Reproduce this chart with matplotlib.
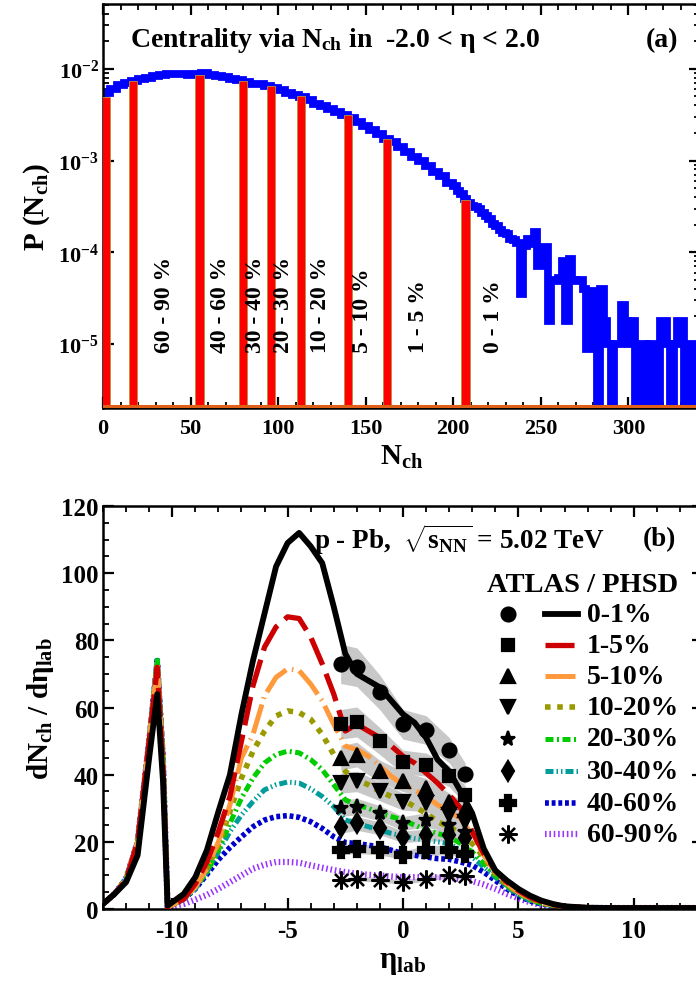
import numpy as np
import matplotlib
matplotlib.use('Agg')
import matplotlib.pyplot as plt
from matplotlib.ticker import MultipleLocator, LogLocator, FuncFormatter, NullFormatter

#################### FONTS (bold Times look) ####################
plt.rcParams['font.family'] = 'serif'
plt.rcParams['font.serif'] = ['Liberation Serif', 'DejaVu Serif']
plt.rcParams['font.weight'] = 'bold'
plt.rcParams['axes.labelweight'] = 'bold'
plt.rcParams['axes.unicode_minus'] = False
plt.rcParams['mathtext.fontset'] = 'custom'
plt.rcParams['mathtext.rm'] = 'Liberation Serif:bold'
plt.rcParams['mathtext.it'] = 'Liberation Serif:bold'
plt.rcParams['mathtext.bf'] = 'Liberation Serif:bold'
plt.rcParams['axes.linewidth'] = 1.8

#################### DATA (a): P(Nch) histogram ####################
# log10 P per bin, 4 wide bins from 0 to 200
nch_width_low = 4
p_log_low = [-2.26, -2.22, -2.18, -2.15, -2.13, -2.11, -2.10, -2.08, -2.07, -2.06,
             -2.055, -2.06, -2.065, -2.06, -2.05, -2.065, -2.08, -2.09, -2.11, -2.12,
             -2.14, -2.16, -2.17, -2.19, -2.21, -2.23, -2.26, -2.28, -2.31, -2.34,
             -2.38, -2.41, -2.44, -2.47, -2.50, -2.54, -2.58, -2.62, -2.67, -2.71,
             -2.76, -2.80, -2.85, -2.91, -2.96, -3.01, -3.06, -3.12, -3.17, -3.24]
# 2 wide bins from 200 to 340, None = empty bin
nch_width_high = 2
p_log_high = [-3.28, -3.33, -3.37, -3.42, -3.46, -3.50, -3.51, -3.53, -3.57, -3.60,
              -3.64, -3.69, -3.71, -3.76, -3.79, -3.80, -3.85, -3.87, -3.90, -4.45,
              -3.93, -3.85, -3.91, -3.78, -4.15, -4.10, -3.94, -4.75, -4.30, -4.31,
              -4.28, -4.10, -4.75, -4.07, -4.30, -4.31, -4.30, -4.40, -5.05, -4.42,
              -5.00, None, -4.40, -4.75, -5.00, None, -5.00, -5.00, -4.58, -4.75,
              -5.00, -4.75, None, -5.00, -5.00, None, -5.00, -5.00, None, -4.75,
              -4.75, -5.00, None, -5.00, -4.75, -4.75, None, -5.00, -5.00, None]

cut_nch = [1.5, 17, 55, 80, 96, 113, 140, 162, 207]
cut_p = [4.9e-3, 7.4e-3, 8.6e-3, 7.4e-3, 6.5e-3, 5.0e-3, 3.15e-3, 1.74e-3, 3.7e-4]
class_labels = ['60 - 90 %', '40 - 60 %', '30 - 40 %', '20 - 30 %',
                '10 - 20 %', '5 - 10 %', '1 - 5 %', '0 - 1 %']
class_nch = [35, 67, 87, 103, 124, 148, 180, 223]

#################### DATA (b): dNch/deta ####################
eta_phsd = [-13, -12.5, -12, -11.5, -11, -10.65, -10.4, -10.2, -9.5, -9, -8.5, -8,
            -7.5, -7, -6.5, -6, -5.5, -5, -4.5, -4, -3.5, -3, -2.5, -2, -1.5, -1,
            -0.5, 0, 0.5, 1, 1.5, 2, 2.5, 3, 3.5, 4, 4.5, 5, 5.5, 6, 6.5, 7, 8, 9,
            10, 11, 12, 13]
phsd_00_01 = [1.5, 4.5, 8, 16, 45, 64, 38, 1, 4.5, 9.5, 17.5, 29,
              40, 58, 74, 88, 102, 109, 112, 108, 103, 90, 76, 70, 68, 66,
              62, 58, 55.5, 51, 44.5, 41, 35, 28.5, 18, 11.5, 8.5, 6, 4, 2.5, 1.5, 0.8, 0.4, 0.3,
              0.3, 0.3, 0.3, 0.3]
phsd_01_05 = [1.5, 4.5, 8.5, 20, 50, 72, 42, 0.5, 3, 7.5, 14, 23,
              33.5, 50, 66.5, 78, 84, 87, 86.5, 81, 73, 64, 53, 55, 53, 51,
              48.5, 45.5, 43.5, 40.5, 37.5, 34, 30, 23, 16.5, 11.5, 8, 5.5, 3.5, 2.2, 1.3, 0.8, 0.4, 0.3,
              0.3, 0.3, 0.3, 0.3]
phsd_05_10 = [1.5, 4.5, 9, 20, 50, 73, 44, 0.5, 3, 6.5, 12, 20,
              31, 45, 52, 63.5, 69, 71.5, 71, 67, 62, 55, 48.5, 47.5, 45.5, 42.5,
              39.5, 37, 35.5, 33.5, 31, 29, 27, 22, 16, 11, 7.5, 5, 3.2, 2, 1.2, 0.7, 0.4, 0.3,
              0.3, 0.3, 0.3, 0.3]
phsd_10_20 = [1.5, 4.5, 9, 20, 50, 73, 44, 0.5, 3, 7, 12, 19,
              29, 39, 47, 53, 57.5, 59, 58.5, 56.5, 52, 46, 41, 38.5, 37, 35,
              33.5, 32.5, 30.5, 28.5, 26, 24.5, 22.5, 19.5, 15.5, 10.5, 7, 5, 3, 1.8, 1.1, 0.7, 0.4, 0.3,
              0.3, 0.3, 0.3, 0.3]
phsd_20_30 = [1.5, 4.5, 9, 20, 50, 74, 45, 0.5, 3, 6.5, 11, 17.5,
              25.5, 33, 39, 43.5, 46, 47, 46.5, 44.5, 41.5, 37, 32.5, 31, 30, 28.5,
              27.5, 26.5, 25, 23.5, 22.5, 21.5, 19.5, 17, 13.5, 10, 7, 4.5, 2.8, 1.7, 1, 0.6, 0.4, 0.3,
              0.3, 0.3, 0.3, 0.3]
phsd_30_40 = [1.5, 4.5, 9, 20, 50, 75, 45, 0.5, 3, 6, 11, 17,
              23, 28, 32, 35.5, 37, 37.8, 37.5, 35.8, 33.5, 30.5, 26.5, 25.5, 24.5, 23.5,
              22.5, 21.8, 21, 20.5, 20, 19.5, 17.5, 15.5, 12.5, 9.5, 6.5, 4.3, 2.6, 1.6, 1, 0.6, 0.4, 0.3,
              0.3, 0.3, 0.3, 0.3]
phsd_40_60 = [1.5, 4.5, 9, 20, 50, 74, 45, 0.5, 3, 6, 10.3, 14.7,
              18.3, 21.5, 24.5, 26.5, 27.5, 27.8, 27.3, 26, 24, 21.5, 19.8, 19.5, 19, 18.5,
              17.5, 16.5, 16, 15.5, 15, 14.8, 14, 13, 11, 8.5, 6, 4, 2.4, 1.5, 0.9, 0.5, 0.3, 0.3,
              0.3, 0.3, 0.3, 0.3]
phsd_60_90 = [1.5, 4.5, 9, 20, 50, 73, 44, 0.5, 1.5, 2.8, 4.2, 6,
              8, 10, 12, 13.2, 14, 14, 13.8, 13, 12.3, 11.6, 11, 10.5, 10.2, 10,
              9.7, 9.5, 9.5, 9.5, 9.5, 9.3, 9, 8.3, 7.3, 6, 4.5, 3.2, 2, 1.2, 0.8, 0.5, 0.3, 0.3,
              0.3, 0.3, 0.3, 0.3]

atlas_eta = [-2.7, -2.0, -1.0, 0.0, 1.0, 2.0, 2.7]
atlas_00_01 = [73, 72, 64.5, 55, 53.3, 47.3, 40.2]
atlas_01_05 = [55, 55.7, 50, 43.8, 43, 39.6, 33.9]
atlas_05_10 = [45, 46, 41, 38, 36, 32, 29.5]
atlas_10_20 = [37.5, 38, 35, 32, 31.5, 28, 26]
atlas_20_30 = [30, 30.5, 28.5, 25.5, 26.5, 25, 23]
atlas_30_40 = [24.5, 25.5, 24, 21.5, 22, 22, 21]
atlas_40_60 = [17.5, 18, 17.5, 16, 17.5, 17.5, 16.5]
atlas_60_90 = [8.5, 9, 8.7, 8, 9, 10, 9.7]
atlas_sys = 0.08                                   # relative width of grey band

cent_names = ['0-1%', '1-5%', '5-10%', '10-20%', '20-30%', '30-40%', '40-60%', '60-90%']

#################### STYLES ####################
phsd_all = [phsd_00_01, phsd_01_05, phsd_05_10, phsd_10_20,
            phsd_20_30, phsd_30_40, phsd_40_60, phsd_60_90]
atlas_all = [atlas_00_01, atlas_01_05, atlas_05_10, atlas_10_20,
             atlas_20_30, atlas_30_40, atlas_40_60, atlas_60_90]
colors = ['black', '#cc0000', '#ff9a3c', '#999900', '#00cc00', '#009c9c', '#0000cc', '#9933ff']
widths = [4.2, 3.8, 3.6, 4.0, 3.6, 3.6, 4.0, 4.5]
dashes = [None, (5.5, 1.8), (6, 1.2, 0.3, 1.2), (1.0, 1.2), (1.6, 0.7, 0.4, 0.7),
          (1.6, 0.6, 0.3, 0.6, 0.3, 0.6), (0.7, 0.5), (0.25, 0.45)]
markers = ['o', 's', '^', 'v', '*', 'd', 'P', (8, 2, 0)]
msizes = [10, 9, 10, 10, 11, 10, 11, 13]

fig = plt.figure(figsize=(6.96, 9.87), dpi=100)

def style_ticks(ax, size):
    ax.tick_params(which='both', direction='in', top=True, right=True)
    ax.tick_params(which='major', length=8, width=1.6, labelsize=size)
    ax.tick_params(which='minor', length=4, width=1.3)

#################### PANEL (a) ####################
ax1 = fig.add_axes([0.148, 0.5856, 0.858, 0.4093])

edges_low = nch_width_low * np.arange(len(p_log_low) + 1)
edges_high = edges_low[-1] + nch_width_high * np.arange(1, len(p_log_high) + 1)
edges = np.concatenate([edges_low, edges_high])
p_vals = np.array([0.0 if v is None else 10.0 ** v for v in p_log_low + p_log_high])

xs = np.repeat(edges, 2)[1:-1]
ys = np.repeat(p_vals, 2)
ax1.set_yscale('log', nonpositive='clip')
ax1.plot(xs, ys, color='blue', lw=5.6, solid_joinstyle='miter', zorder=2)

floor = 1e-7
ax1.bar(cut_nch, np.array(cut_p) - floor, bottom=floor, width=4.8, color='red',
        edgecolor='#b8903a', linewidth=0.6, zorder=3)
ax1.plot([0, 1], [0.006, 0.006], transform=ax1.transAxes, color='#e0601a', lw=2.2, zorder=4)

for lab, xn in zip(class_labels, class_nch):
    ax1.text(xn, 8.2e-6, lab, rotation=90, ha='center', va='bottom', fontsize=17)

ax1.set_xlim(0, 341)
ax1.set_ylim(2.0e-6, 5.1e-2)
ax1.xaxis.set_major_locator(MultipleLocator(50))
ax1.xaxis.set_minor_locator(MultipleLocator(10))
ax1.yaxis.set_major_locator(LogLocator(base=10, numticks=10))
ax1.yaxis.set_minor_locator(LogLocator(base=10, subs=np.arange(2, 10), numticks=20))
ax1.yaxis.set_major_formatter(FuncFormatter(lambda v, pos: r'$\mathrm{10^{%d}}$' % round(np.log10(v))))
ax1.yaxis.set_minor_formatter(NullFormatter())
style_ticks(ax1, 16)
ax1.tick_params(axis='x', pad=7)
ax1.tick_params(axis='y', pad=3)

ax1.set_xlabel(r'N$_{\mathrm{ch}}$', fontsize=21, labelpad=4)
ax1.set_ylabel(r'P (N$_{\mathrm{ch}}$)', fontsize=21, labelpad=4)
ax1.text(0.045, 0.913, r'Centrality via N$_{\mathrm{ch}}$ in  -2.0 < η < 2.0',
         transform=ax1.transAxes, fontsize=20, va='center', ha='left')
ax1.text(0.936, 0.913, '(a)', transform=ax1.transAxes, fontsize=20, va='center', ha='center')

#################### PANEL (b) ####################
ax2 = fig.add_axes([0.148, 0.078, 0.862, 0.4083])

for k in range(len(phsd_all)):
    lo = [v * (1 - atlas_sys) for v in atlas_all[k]]
    hi = [v * (1 + atlas_sys) for v in atlas_all[k]]
    ax2.fill_between(atlas_eta, lo, hi, color='#c8c8c8', lw=0, zorder=1)

for k in reversed(range(len(phsd_all))):
    line, = ax2.plot(eta_phsd, phsd_all[k], color=colors[k], lw=widths[k], zorder=2 + 0.1 * (8 - k))
    if dashes[k] is not None:
        line.set_dashes(dashes[k])
        line.set_dash_capstyle('butt')

for k in range(len(atlas_all)):
    ax2.plot(atlas_eta, atlas_all[k], ls='none', marker=markers[k], ms=msizes[k],
             color='black', mec='black', mew=1.6, zorder=5)

ax2.set_xlim(-13, 13)
ax2.set_ylim(0, 120)
ax2.xaxis.set_major_locator(MultipleLocator(5))
ax2.xaxis.set_minor_locator(MultipleLocator(1))
ax2.yaxis.set_major_locator(MultipleLocator(20))
ax2.yaxis.set_minor_locator(MultipleLocator(5))
style_ticks(ax2, 18)
ax2.tick_params(axis='x', pad=7)
ax2.tick_params(axis='y', pad=3)
ax2.set_xlabel(r'η$_{\mathrm{lab}}$', fontsize=22, labelpad=4)
ax2.set_ylabel(r'dN$_{\mathrm{ch}}$ / dη$_{\mathrm{lab}}$', fontsize=21, labelpad=4)

ax2.text(0.352, 0.918, r'p - Pb,  $\sqrt{\mathrm{s}_{\mathrm{NN}}}$ = 5.02 TeV',
         transform=ax2.transAxes, fontsize=19.5, va='center', ha='left')
ax2.text(0.928, 0.918, '(b)', transform=ax2.transAxes, fontsize=19.5, va='center', ha='center')

# hand made two column legend (markers | lines)
ax2.text(0.640, 0.806, 'ATLAS / PHSD', transform=ax2.transAxes, fontsize=20.5,
         va='center', ha='left')
row_y = [0.732, 0.655, 0.578, 0.501, 0.422, 0.342, 0.263, 0.186]
for k in range(len(cent_names)):
    ax2.plot([0.675], [row_y[k]], transform=ax2.transAxes, ls='none', marker=markers[k],
             ms=msizes[k], color='black', mew=1.6, clip_on=False)
    seg, = ax2.plot([0.737, 0.792], [row_y[k], row_y[k]], transform=ax2.transAxes,
                    color=colors[k], lw=widths[k], clip_on=False)
    if dashes[k] is not None:
        seg.set_dashes(dashes[k])
        seg.set_dash_capstyle('butt')
    ax2.text(0.806, row_y[k], cent_names[k], transform=ax2.transAxes, fontsize=20,
             va='center', ha='left')

fig.savefig('out.png', dpi=100)
